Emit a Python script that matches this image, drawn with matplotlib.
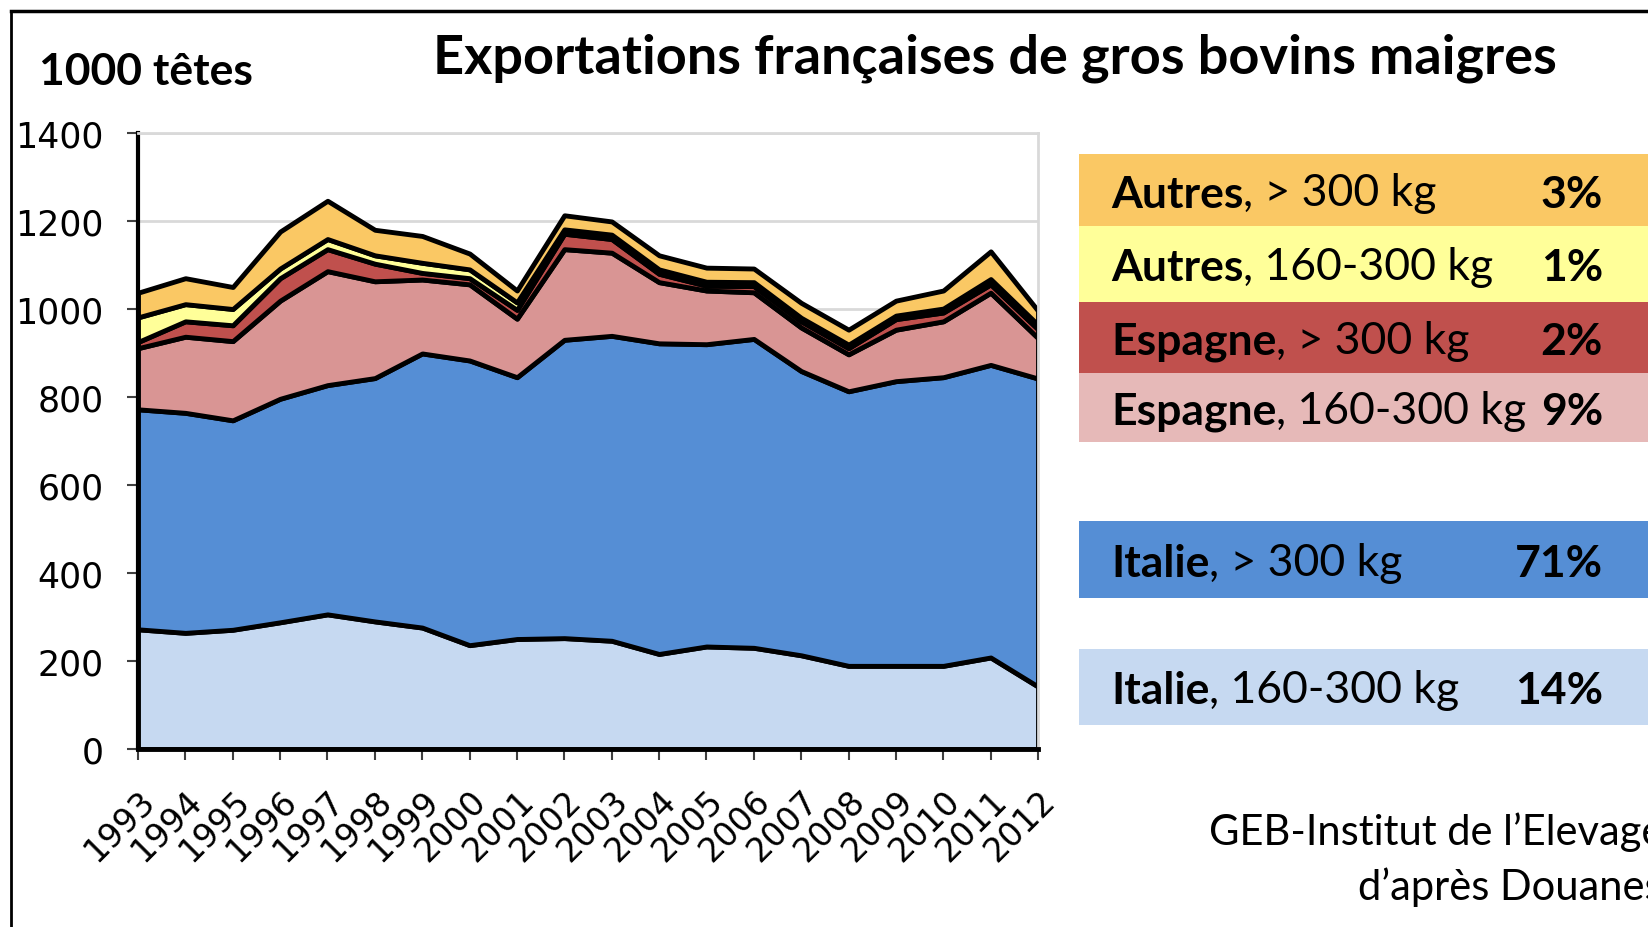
import numpy as np
import matplotlib
matplotlib.use("Agg")
import matplotlib.pyplot as plt
from matplotlib.patches import Rectangle

years = list(range(1993, 2013))

# 1000 têtes, per category
italie_160_300 = [272, 264, 271, 288, 306, 290, 276, 236, 250, 252, 246, 216, 233, 230, 213, 189, 189, 189, 208, 142]
italie_300 = [500, 500, 476, 508, 521, 553, 623, 647, 595, 678, 693, 706, 687, 702, 646, 624, 647, 656, 665, 700]
espagne_160_300 = [139, 173, 180, 223, 259, 220, 168, 173, 133, 206, 189, 139, 122, 106, 99, 84, 117, 127, 164, 92]
espagne_300 = [14, 35, 36, 51, 50, 40, 15, 14, 20, 35, 31, 19, 11, 14, 14, 14, 24, 20, 19, 20]
autres_160_300 = [56, 39, 37, 22, 23, 19, 23, 20, 17, 10, 10, 10, 9, 9, 8, 8, 8, 9, 12, 10]
autres_300 = [56, 59, 50, 84, 87, 58, 61, 36, 27, 32, 30, 32, 32, 31, 34, 34, 34, 41, 63, 32]

series = [italie_160_300, italie_300, espagne_160_300, espagne_300, autres_160_300, autres_300]
colors = ["#c6d9f1", "#558ed5", "#d99594", "#c0504d", "#ffff99", "#fac864"]

# legend, top to bottom
leg_bold = ["Autres", "Autres", "Espagne", "Espagne", "Italie", "Italie"]
leg_rest = [", > 300 kg", ", 160-300 kg", ", > 300 kg", ", 160-300 kg", ", > 300 kg", ", 160-300 kg"]
leg_pct = ["3%", "1%", "2%", "9%", "71%", "14%"]
leg_colors = ["#fac864", "#ffff99", "#c0504d", "#e6b9b8", "#558ed5", "#c6d9f1"]

W, H = 1648, 928
fig = plt.figure(figsize=(W / 100, H / 100), dpi=100)
fig.patch.set_facecolor("white")

# overlay in pixel coords (y down) for the legend and texts
ov = fig.add_axes([0, 0, 1, 1])
ov.set_xlim(0, W)
ov.set_ylim(H, 0)
ov.axis("off")

ax = fig.add_axes([138 / W, 1 - 750 / H, (1038 - 138) / W, (750 - 134) / H])
x = np.arange(len(years))
ax.stackplot(x, *series, colors=colors, edgecolor="black", linewidth=3.5)
ax.set_xlim(0, len(years) - 1)
ax.set_ylim(0, 1400)
ax.set_yticks(range(0, 1401, 200))
ax.set_xticks(x)
ax.set_xticklabels([str(y) for y in years], rotation=45, ha="right", rotation_mode="anchor",
                   fontsize=24, family="DejaVu Sans")
ax.tick_params(axis="y", labelsize=25, length=8, width=1.5, color="#404040", pad=17)
ax.tick_params(axis="x", length=8, width=1.5, color="#404040", pad=17)
ax.grid(axis="y", color="#d9d9d9", linewidth=2)
ax.set_axisbelow(True)
for s in ["top", "right"]:
    ax.spines[s].set_color("#d9d9d9")
    ax.spines[s].set_linewidth(2)
ax.spines["left"].set_linewidth(3)
ax.spines["bottom"].set_linewidth(3.5)

ov.text(433, 58, "Exportations françaises de gros bovins maigres", fontsize=39,
        fontweight="bold", family="Lato", va="center", ha="left")
ov.text(39, 72, "1000 têtes", fontsize=32, fontweight="bold", family="Lato",
        va="center", ha="left")

# legend boxes
tops = [155, 227, 303, 374, 522, 650]
bots = [227, 303, 374, 443, 599, 726]
for i in range(6):
    ov.add_patch(Rectangle((1079, tops[i]), W - 1079, bots[i] - tops[i],
                           facecolor=leg_colors[i], edgecolor="none"))
    yc = (tops[i] + bots[i]) / 2
    t = ov.text(1111, yc, leg_bold[i], fontsize=32, fontweight="bold", family="Lato",
                va="center_baseline", ha="left")
    ov.annotate(leg_rest[i], xy=(1, 0), xycoords=t, fontsize=32, family="Lato",
                va="bottom", ha="left")
    ov.text(1603, yc, leg_pct[i], fontsize=32, fontweight="bold", family="Lato",
            va="center_baseline", ha="right")

ov.text(1663, 832, "GEB-Institut de l\u2019Elevage", fontsize=30, family="Lato",
        ha="right", va="center")
ov.text(1663, 887, "d\u2019après Douanes", fontsize=30, family="Lato",
        ha="right", va="center")

# outer frame
ov.plot([11, W], [12, 12], color="black", linewidth=2.5, clip_on=False)
ov.plot([11, 11], [12, H], color="black", linewidth=2, clip_on=False)

fig.savefig("out.png", dpi=100)
